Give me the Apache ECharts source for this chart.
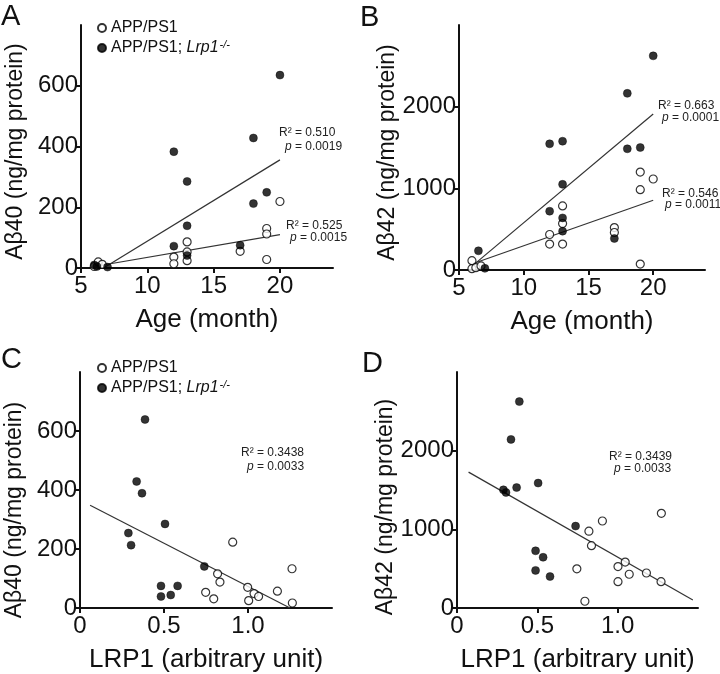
<!DOCTYPE html>
<html>
<head>
<meta charset="utf-8">
<script src="https://cdn.jsdelivr.net/npm/echarts@6/dist/echarts.min.js"></script>
<style>html,body{margin:0;padding:0;background:#fff}#c{width:720px;height:674px}</style>
</head>
<body>
<div id="c"></div>
<script>
// ---- Data ----
var nameWT = 'APP/PS1';
var nameKO = 'APP/PS1; Lrp1-/-';
// Panel A: age (month) vs Abeta40
var aWT = [[6,5],[6.3,20],[6.6,12],[12,36],[12,14],[13,86],[13,53],[13,24],[17,55],[19,130],[19,112],[19,28],[20,219]];
var aKO = [[6,10],[6.2,5],[7,3],[12,383],[12,72],[13,285],[13,139],[13,41],[17,75],[18,428],[18,212],[19,249],[20,635]];
var aFitKO = [[6.7,0],[20,356]];
var aFitWT = [[6,5],[20,110]];
// Panel B: age (month) vs Abeta42
var bWT = [[6,114],[6,16],[6.3,28],[6.7,50],[12,435],[12,317],[13,785],[13,569],[13,317],[17,520],[17,459],[19,1199],[19,984],[19,73],[20,1114]];
var bKO = [[6.5,235],[7,20],[12,1545],[12,720],[13,1577],[13,1049],[13,638],[13,476],[17,386],[18,2163],[18,1484],[19,1500],[20,2622]];
var bFitKO = [[6.1,60],[20,1911]];
var bFitWT = [[6.1,80],[20,854]];
// Panel C: LRP1 vs Abeta40
var cWT = [[0.909,223],[1.262,133],[0.819,116],[0.833,88],[0.748,53],[0.796,31],[0.998,70],[1.036,49],[1.004,25],[1.063,39],[1.175,57],[1.264,17]];
var cKO = [[0.387,639],[0.337,429],[0.369,389],[0.288,254],[0.304,213],[0.506,285],[0.740,141],[0.482,75],[0.581,75],[0.482,39],[0.540,44]];
var cFit = [[0.06,348],[1.25,0]];
// Panel D: LRP1 vs Abeta42
var dWT = [[1.272,1204],[0.905,1106],[0.821,976],[0.837,792],[0.746,498],[0.796,86],[1.047,584],[1.002,527],[1.072,429],[1.179,445],[1.002,335],[1.270,335]];
var dKO = [[0.388,2624],[0.336,2143],[0.289,1502],[0.305,1469],[0.371,1531],[0.505,1588],[0.738,1041],[0.489,727],[0.536,645],[0.489,478],[0.579,400]];
var dFit = [[0.072,1727],[1.468,102]];
// Ticks
var ageTicks = [5,10,15,20];
var lrpTicks = [0,0.5,1.0];
var ab40Ticks = [0,200,400,600];
var ab42Ticks = [0,1000,2000];
// Stats text
var statsA = [['0.510','0.0019'],['0.525','0.0015']];
var statsB = [['0.663','0.0001'],['0.546','0.0011']];
var statsC = ['0.3438','0.0033'];
var statsD = ['0.3439','0.0033'];

// ---- Chart ----
var FF = '"Liberation Sans", Arial, Helvetica, sans-serif';
var INK = '#111';

function xAxis(gi, min, max, ticks, fmt, name) {
  return {
    gridIndex: gi, type: 'value', min: min, max: max,
    name: name, nameLocation: 'middle', nameGap: 39,
    nameTextStyle: {fontSize: 26, color: INK, fontFamily: FF},
    axisLine: {onZero: false, lineStyle: {color: INK, width: 2}},
    axisTick: {show: true, customValues: ticks, length: 5, lineStyle: {color: INK, width: 2}},
    axisLabel: {customValues: ticks, formatter: fmt, fontSize: 24, color: INK, fontFamily: FF, margin: 6},
    splitLine: {show: false}
  };
}
function yAxis(gi, min, max, ticks, name, shift) {
  return {
    gridIndex: gi, type: 'value', min: min, max: max,
    name: name, nameLocation: 'middle', nameGap: 54,
    nameTextStyle: {fontSize: 23, color: INK, fontFamily: FF, padding: [0, shift * 2, 0, 0]},
    axisLine: {onZero: false, lineStyle: {color: INK, width: 2}},
    axisTick: {show: true, customValues: ticks, length: 5, lineStyle: {color: INK, width: 2}},
    axisLabel: {customValues: ticks, formatter: function (v) { return String(v); }, fontSize: 24, color: INK, fontFamily: FF, margin: 3},
    splitLine: {show: false}
  };
}
function scat(gi, name, data, open) {
  return {
    type: 'scatter', name: name, xAxisIndex: gi, yAxisIndex: gi, data: data,
    symbol: 'circle', symbolSize: 8, z: open ? 3 : 4,
    itemStyle: open ? {color: '#fff', borderColor: '#000', borderWidth: 1.2} : {color: '#000', borderColor: '#000', borderWidth: 0.5},
    emphasis: {disabled: true}
  };
}
function fit(gi, data) {
  return {
    type: 'line', xAxisIndex: gi, yAxisIndex: gi, data: data, symbol: 'none', silent: true, z: 2,
    lineStyle: {color: '#333', width: 1.2}
  };
}
var ageFmt = function (v) { return String(v); };
var lrpFmt = function (v) { return v === 0 ? '0' : v.toFixed(1); };

var richStat = {i: {fontStyle: 'italic', fontSize: 12, fontFamily: FF, fill: '#222'}};
function statText(x, y, s) {
  return {type: 'text', x: x, y: y, style: {text: s, font: '12px ' + FF, fill: '#222', verticalAlign: 'middle', rich: richStat}};
}
function letter(x, y, s) {
  return {type: 'text', x: x, y: y, style: {text: s, font: '29px ' + FF, fill: INK}};
}
function legend(top) {
  return {
    data: [nameWT, nameKO], orient: 'vertical', left: 92, top: top,
    itemWidth: 8, itemHeight: 8, itemGap: 2, icon: 'circle', selectedMode: false,
    textStyle: {fontSize: 16, color: INK, fontFamily: FF, lineHeight: 18,
      rich: {i: {fontStyle: 'italic', fontSize: 16, fontFamily: FF, color: INK},
             s: {fontStyle: 'italic', fontSize: 11, fontFamily: FF, color: INK, verticalAlign: 'top', lineHeight: 12, padding: [0, 0, 0, 1]}}},
    formatter: function (n) { return n === nameKO ? 'APP/PS1; {i|Lrp1}{s|-/-}' : n; }
  };
}

var option = {
  animation: false,
  backgroundColor: '#fff',
  grid: [
    {left: 81, top: 25, width: 252, height: 243},
    {left: 459, top: 25, width: 246, height: 245},
    {left: 80, top: 372, width: 252, height: 241},
    {left: 457, top: 372, width: 241, height: 243}
  ],
  xAxis: [
    xAxis(0, 5, 24, ageTicks, ageFmt, 'Age (month)'),
    xAxis(1, 5, 24, ageTicks, ageFmt, 'Age (month)'),
    xAxis(2, 0, 1.5, lrpTicks, lrpFmt, 'LRP1 (arbitrary unit)'),
    xAxis(3, 0, 1.5, lrpTicks, lrpFmt, 'LRP1 (arbitrary unit)')
  ],
  yAxis: [
    yAxis(0, 0, 800, ab40Ticks, 'A\u03b240 (ng/mg protein)', 5),
    yAxis(1, 0, 3000, ab42Ticks, 'A\u03b242 (ng/mg protein)', 5),
    yAxis(2, 0, 800, ab40Ticks, 'A\u03b240 (ng/mg protein)', 20),
    yAxis(3, 0, 3000, ab42Ticks, 'A\u03b242 (ng/mg protein)', 17)
  ],
  legend: [legend(14), legend(354)],
  series: [
    fit(0, aFitKO), fit(0, aFitWT), scat(0, nameWT, aWT, true), scat(0, nameKO, aKO, false),
    fit(1, bFitKO), fit(1, bFitWT), scat(1, nameWT, bWT, true), scat(1, nameKO, bKO, false),
    fit(2, cFit), scat(2, nameWT, cWT, true), scat(2, nameKO, cKO, false),
    fit(3, dFit), scat(3, nameWT, dWT, true), scat(3, nameKO, dKO, false)
  ],
  graphic: [
    letter(1, 2, 'A'), letter(360, 3, 'B'), letter(1, 345, 'C'), letter(362, 349, 'D'),
    statText(279, 133, 'R\u00b2 = ' + statsA[0][0]), statText(285, 147, '{i|p} = ' + statsA[0][1]),
    statText(286, 226, 'R\u00b2 = ' + statsA[1][0]), statText(290, 238, '{i|p} = ' + statsA[1][1]),
    statText(658, 106, 'R\u00b2 = ' + statsB[0][0]), statText(662, 118, '{i|p} = ' + statsB[0][1]),
    statText(662, 194, 'R\u00b2 = ' + statsB[1][0]), statText(665, 205, '{i|p} = ' + statsB[1][1]),
    statText(241, 453, 'R\u00b2 = ' + statsC[0]), statText(247, 467, '{i|p} = ' + statsC[1]),
    statText(609, 457, 'R\u00b2 = ' + statsD[0]), statText(614, 469, '{i|p} = ' + statsD[1])
  ]
};
var chart = echarts.init(document.getElementById('c'), null, {renderer: 'canvas'});
chart.setOption(option);
</script>
</body>
</html>
